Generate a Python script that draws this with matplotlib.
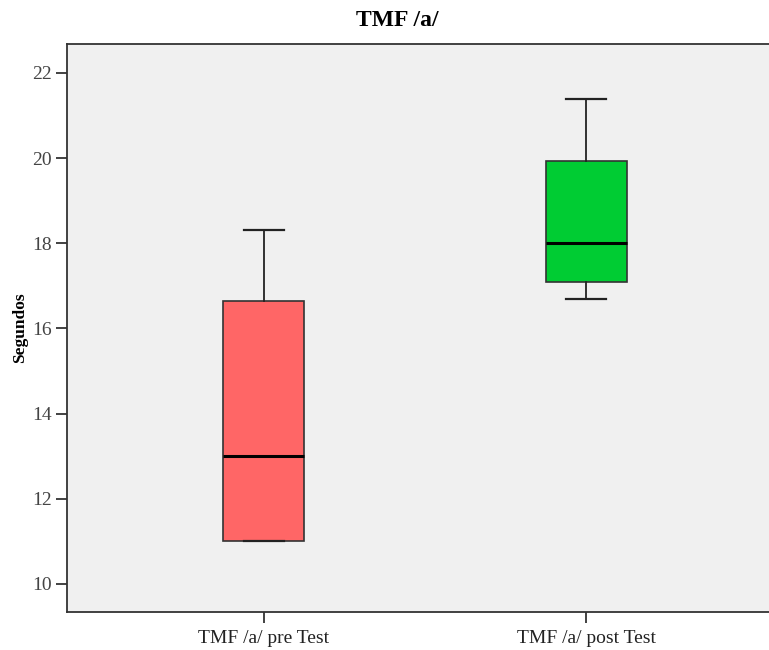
import matplotlib
matplotlib.use("Agg")
import matplotlib.pyplot as plt

categories = ["TMF /a/ pre Test", "TMF /a/ post Test"]
whislo = [11.0, 16.7]
q1 = [11.0, 17.1]
med = [13.0, 18.0]
q3 = [16.65, 19.93]
whishi = [18.3, 21.4]
colors = ["#ff6666", "#00cc33"]
yticks = [10, 12, 14, 16, 18, 20, 22]

plt.rcParams['font.family'] = ['Liberation Serif', 'DejaVu Serif']

fig = plt.figure(figsize=(7.69, 6.5), dpi=100)
ax = fig.add_axes([67/769, 1 - 612/650, 1 - 67/769 + 0.002, (612 - 44)/650])
ax.set_facecolor("#f0f0f0")

stats = []
for i, c in enumerate(categories):
    stats.append(dict(label=c, whislo=whislo[i], q1=q1[i], med=med[i],
                      q3=q3[i], whishi=whishi[i], fliers=[]))

bp = ax.bxp(stats, positions=[1, 2], widths=0.25, capwidths=0.124,
            patch_artist=True, showfliers=False,
            boxprops=dict(edgecolor="#333333", linewidth=1.2),
            medianprops=dict(color="black", linewidth=2.2),
            whiskerprops=dict(color="#222222", linewidth=1.3),
            capprops=dict(color="#222222", linewidth=1.6))
for patch, col in zip(bp['boxes'], colors):
    patch.set_facecolor(col)

ax.set_xlim(0.391, 2.571)
ax.set_ylim(9.34, 22.68)
ax.set_yticks(yticks)
ax.set_yticklabels([str(t) for t in yticks], fontsize=14, color="#444444")
ax.set_xticks([1, 2])
ax.set_xticklabels(categories, fontsize=14, color="#222222")
ax.tick_params(axis='both', direction='out', length=8, width=1.3, color="#333333")
ax.tick_params(axis='x', pad=5)
ax.tick_params(axis='y', pad=3)

for s in ['left', 'bottom', 'top']:
    ax.spines[s].set_linewidth(1.3)
    ax.spines[s].set_color("#333333")
ax.spines['right'].set_visible(False)

ax.set_ylabel("Segundos", fontsize=12.5, fontweight='bold')
ax.yaxis.set_label_coords(-0.056, 0.5)
fig.text(397/769, 1 - 20/650, "TMF /a/", ha='center', va='center',
         fontsize=17, fontweight='bold')

fig.savefig("out.png", dpi=100)
